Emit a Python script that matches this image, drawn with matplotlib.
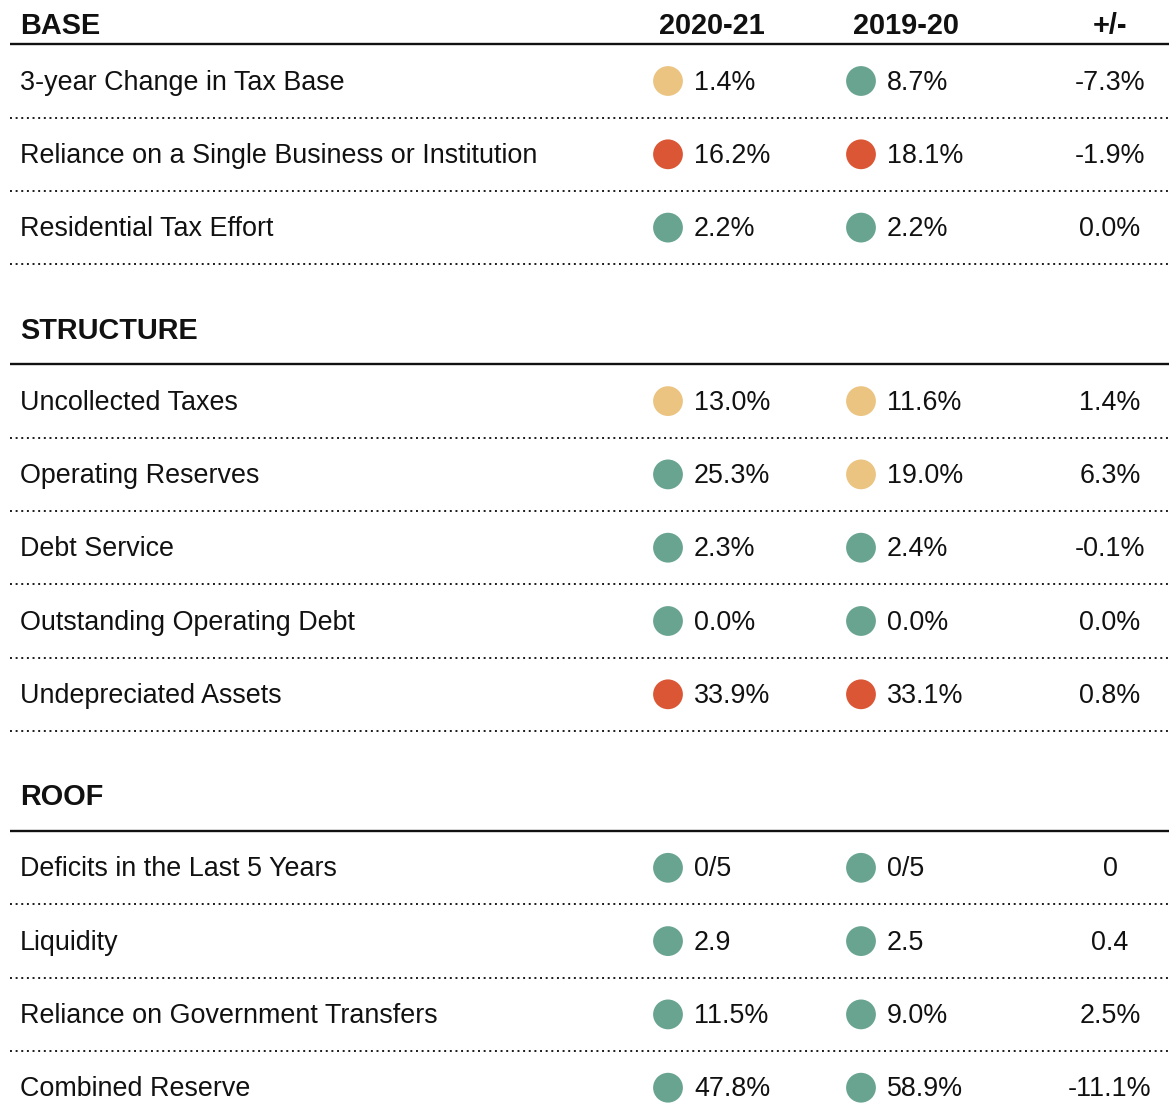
import matplotlib
matplotlib.use("Agg")
import matplotlib.pyplot as plt
from matplotlib import font_manager as fm

# col headers
col_headers = ["2020-21", "2019-20", "+/-"]

# sections and rows
sections = ["BASE", "STRUCTURE", "ROOF"]

base_labels = ["3-year Change in Tax Base",
               "Reliance on a Single Business or Institution",
               "Residential Tax Effort"]
base_cur = ["1.4%", "16.2%", "2.2%"]
base_prev = ["8.7%", "18.1%", "2.2%"]
base_diff = ["-7.3%", "-1.9%", "0.0%"]
base_cur_status = ["y", "r", "g"]
base_prev_status = ["g", "r", "g"]

struct_labels = ["Uncollected Taxes", "Operating Reserves", "Debt Service",
                 "Outstanding Operating Debt", "Undepreciated Assets"]
struct_cur = ["13.0%", "25.3%", "2.3%", "0.0%", "33.9%"]
struct_prev = ["11.6%", "19.0%", "2.4%", "0.0%", "33.1%"]
struct_diff = ["1.4%", "6.3%", "-0.1%", "0.0%", "0.8%"]
struct_cur_status = ["y", "g", "g", "g", "r"]
struct_prev_status = ["y", "y", "g", "g", "r"]

roof_labels = ["Deficits in the Last 5 Years", "Liquidity",
               "Reliance on Government Transfers", "Combined Reserve"]
roof_cur = ["0/5", "2.9", "11.5%", "47.8%"]
roof_prev = ["0/5", "2.5", "9.0%", "58.9%"]
roof_diff = ["0", "0.4", "2.5%", "-11.1%"]
roof_cur_status = ["g", "g", "g", "g"]
roof_prev_status = ["g", "g", "g", "g"]

status_colors = {"g": "#68a48f", "y": "#ebc481", "r": "#db5634"}

section_rows = [
    (base_labels, base_cur, base_prev, base_diff, base_cur_status, base_prev_status),
    (struct_labels, struct_cur, struct_prev, struct_diff, struct_cur_status, struct_prev_status),
    (roof_labels, roof_cur, roof_prev, roof_diff, roof_cur_status, roof_prev_status),
]

# pin the Arial-like font by file so nothing else gets picked
reg_path = fm.findfont(fm.FontProperties(family='Liberation Sans'))
bold_path = fm.findfont(fm.FontProperties(family='Liberation Sans', weight='bold'))
fp_row = fm.FontProperties(fname=reg_path, size=19.4)
fp_head = fm.FontProperties(fname=bold_path, size=20.8)

W, H = 1169, 1119
fig = plt.figure(figsize=(W / 100, H / 100), dpi=100)
ax = fig.add_axes([0, 0, 1, 1])
ax.set_xlim(0, W)
ax.set_ylim(H, 0)
ax.axis('off')

txt_col = "#111111"
row_h = 73.3
x_label = 20
x_dot1, x_dot2 = 668, 861
x_val1, x_val2 = 694, 887
x_diff = 1110
line_x0 = 10
toff = 1.5  # nudge text down a bit

y = 25
for si, (sec, rows) in enumerate(zip(sections, section_rows)):
    labels, cur, prev, diff, cst, pst = rows
    ax.text(x_label, y + toff, sec, fontproperties=fp_head, va='center', ha='left', color=txt_col)
    if si == 0:
        ax.text(712, y + toff, col_headers[0], fontproperties=fp_head, va='center', ha='center', color=txt_col)
        ax.text(906, y + toff, col_headers[1], fontproperties=fp_head, va='center', ha='center', color=txt_col)
        ax.text(x_diff, y + toff, col_headers[2], fontproperties=fp_head, va='center', ha='center', color=txt_col)
        line_y = y + 19
    else:
        line_y = y + 35
    ax.plot([line_x0, W], [line_y, line_y], color=txt_col, lw=1.7, solid_capstyle='butt')
    ry = line_y + 37
    for i in range(len(labels)):
        ax.text(x_label, ry + toff, labels[i], fontproperties=fp_row, va='center', ha='left', color=txt_col)
        ax.scatter([x_dot1], [ry], s=460, color=status_colors[cst[i]], edgecolors='none', zorder=3)
        ax.scatter([x_dot2], [ry], s=460, color=status_colors[pst[i]], edgecolors='none', zorder=3)
        ax.text(x_val1, ry + toff, cur[i], fontproperties=fp_row, va='center', ha='left', color=txt_col)
        ax.text(x_val2, ry + toff, prev[i], fontproperties=fp_row, va='center', ha='left', color=txt_col)
        ax.text(x_diff, ry + toff, diff[i], fontproperties=fp_row, va='center', ha='center', color=txt_col)
        dy = ry + 36.5
        ax.plot([line_x0, W], [dy, dy], color="#1a1a1a", lw=1.4, linestyle=(0, (1, 1.9)))
        last = dy
        ry += row_h
    y = last + 65

fig.savefig("out.png", dpi=100)
